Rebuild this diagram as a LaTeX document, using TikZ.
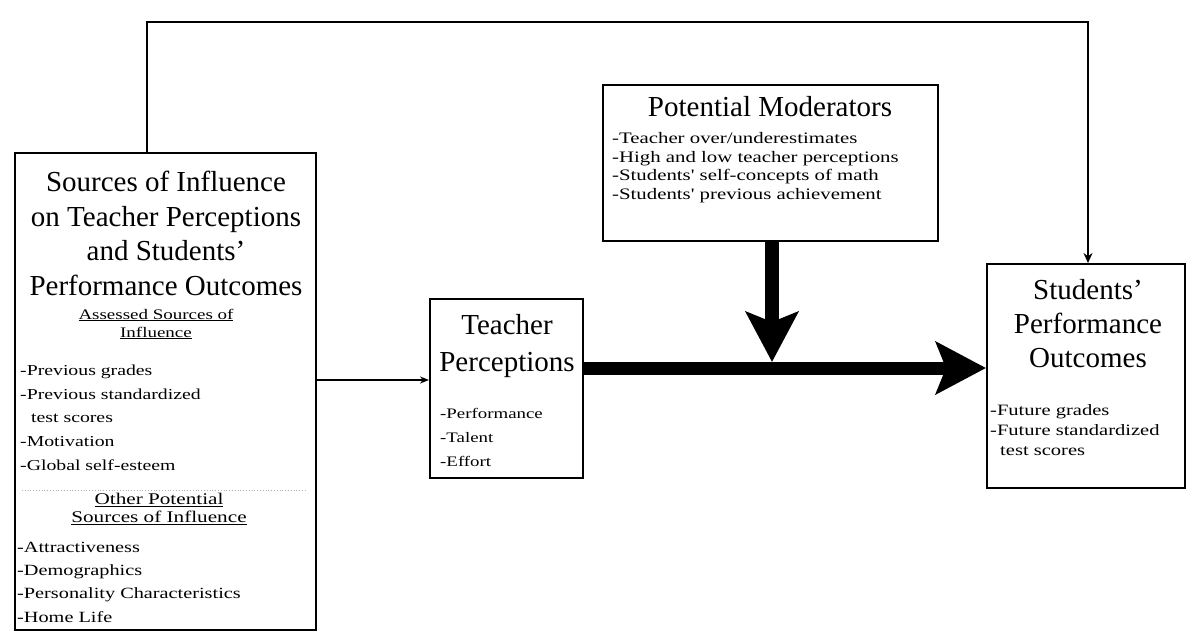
\documentclass[tikz,border=0pt]{standalone}
\usepackage{fontspec}
\setmainfont{Liberation Serif}
\newfontfamily\wide[FakeStretch=1.3]{Liberation Serif}
\usetikzlibrary{arrows.meta}
\tikzset{
  box/.style={draw, line width=2pt, inner sep=0pt},
  ttl/.style={inner sep=0pt, align=center, font=\fontsize{29}{34.5}\selectfont},
  lst/.style={inner sep=0pt, align=left, anchor=west},
  thinarr/.style={line width=1.5pt, -{Stealth[length=9pt,width=7pt]}},
  fbarr/.style={line width=2.5pt, -{Stealth[length=10pt,width=9pt]}},
  bigarr/.style={line width=13pt, -{Stealth[length=50pt,width=52pt,inset=10pt]}},
}
\begin{document}
\begin{tikzpicture}[x=1pt,y=-1pt]
\useasboundingbox (0,0) rectangle (1188,633);
% boxes
\node[box, minimum width=301pt, minimum height=477pt] (src) at (165.5,391.5) {};
\node[box, minimum width=153pt, minimum height=179pt] (tp) at (506.5,388.5) {};
\node[box, minimum width=335pt, minimum height=156pt] (mod) at (770.5,163) {};
\node[box, minimum width=198pt, minimum height=224pt] (sp) at (1086,376) {};
% left box texts
\node[ttl] (srct) at (166,233.5) {Sources of Influence\\on Teacher Perceptions\\and Students'\\Performance Outcomes};
\node[inner sep=0pt, align=center, font=\wide\fontsize{14.6}{18}\selectfont] (assh) at (156,324) {\underline{Assessed Sources of}\\\underline{Influence}};
\node[lst, font=\wide\fontsize{15.2}{23.7}\selectfont] (assl) at (20,417.5) {-Previous grades\\-Previous standardized\\\hspace*{11pt}test scores\\-Motivation\\-Global self-esteem};
\node[inner sep=0pt, align=center, font=\wide\fontsize{16.3}{18}\selectfont] (othh) at (159,509) {\underline{Other Potential}\\\underline{Sources of Influence}};
\node[lst, font=\wide\fontsize{15.6}{23.3}\selectfont] (othl) at (17,582) {-Attractiveness\\-Demographics\\-Personality Characteristics\\-Home Life};
\coordinate (d1) at (22,490);
\coordinate (d2) at (305,490);
\draw[gray!60, dotted, line width=0.8pt] (d1) -- (d2);
% teacher box texts
\node[ttl, font=\fontsize{29}{37}\selectfont] (tpt) at (507,346.5) {Teacher\\Perceptions};
\node[lst, font=\wide\fontsize{14.5}{24}\selectfont] (tpl) at (440,437) {-Performance\\-Talent\\-Effort};
% moderators texts
\node[ttl] (modt) at (770,107) {Potential Moderators};
\node[lst, font=\wide\fontsize{16}{18.5}\selectfont] (modl) at (612,167.5) {-Teacher over/underestimates\\-High and low teacher perceptions\\-Students' self-concepts of math\\-Students' previous achievement};
% students texts
\node[ttl, font=\fontsize{29}{34}\selectfont] (spt) at (1088,324) {Students'\\Performance\\Outcomes};
\node[lst, font=\wide\fontsize{15.8}{20}\selectfont] (spl) at (990,430) {-Future grades\\-Future standardized\\\hspace*{10pt}test scores};
% connectors
\coordinate (a1) at (316,380);
\draw[thinarr] (a1 -| src.east) -- (a1 -| tp.west);
\coordinate (m) at (772,368);
\coordinate (mtop) at (772,362);
\draw[bigarr] (m -| tp.east) -- (m -| sp.west);
\draw[bigarr, line width=14pt] (mtop |- mod.south) -- (mtop);
\coordinate (f1) at (147,22);
\coordinate (f2) at (1088,22);
\draw[fbarr] (f1 |- src.north) -- (f1) -- (f2) -- (f2 |- sp.north);
\end{tikzpicture}
\end{document}
